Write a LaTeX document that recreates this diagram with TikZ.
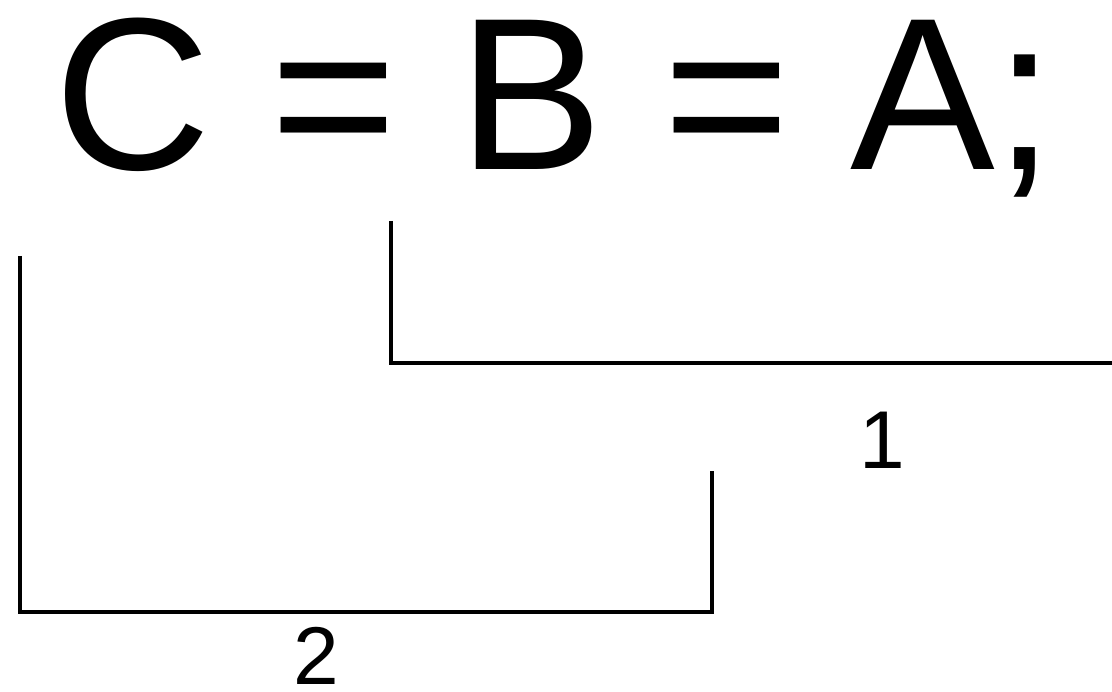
\documentclass[tikz,border=0pt]{standalone}
\usepackage{fontspec}
\setmainfont{Liberation Sans}
\usetikzlibrary{positioning}

\begin{document}
\begin{tikzpicture}[
  x=1pt, y=-1pt,
  bracket/.style={draw=black, line width=3.5pt, line cap=butt, line join=miter},
  stmt/.style={font=\fontsize{217}{217}\selectfont, inner sep=0pt, anchor=base west},
  order/.style={font=\fontsize{82}{82}\selectfont, inner sep=0pt, anchor=base}
]
\useasboundingbox (0,0) rectangle (1112,692);

% Anweisung
\node[stmt] (assign) at (54,170) {C = B = A;};

% Klammer 1: B = A
\coordinate (b1top) at (391,221);
\coordinate (b1end) at (1112,363);
\draw[bracket] (b1top) |- (b1end);
\node[order] (one) at (882,469) {1};

% Klammer 2: C = (B = A)
\coordinate (b2top) at (20,256);
\coordinate (b2right) at (712,471);
\coordinate (b2base) at (20,612);
\draw[bracket] (b2top) -- (b2base) -| (b2right);
\node[order] (two) at (316,684) {2};

\end{tikzpicture}
\end{document}
